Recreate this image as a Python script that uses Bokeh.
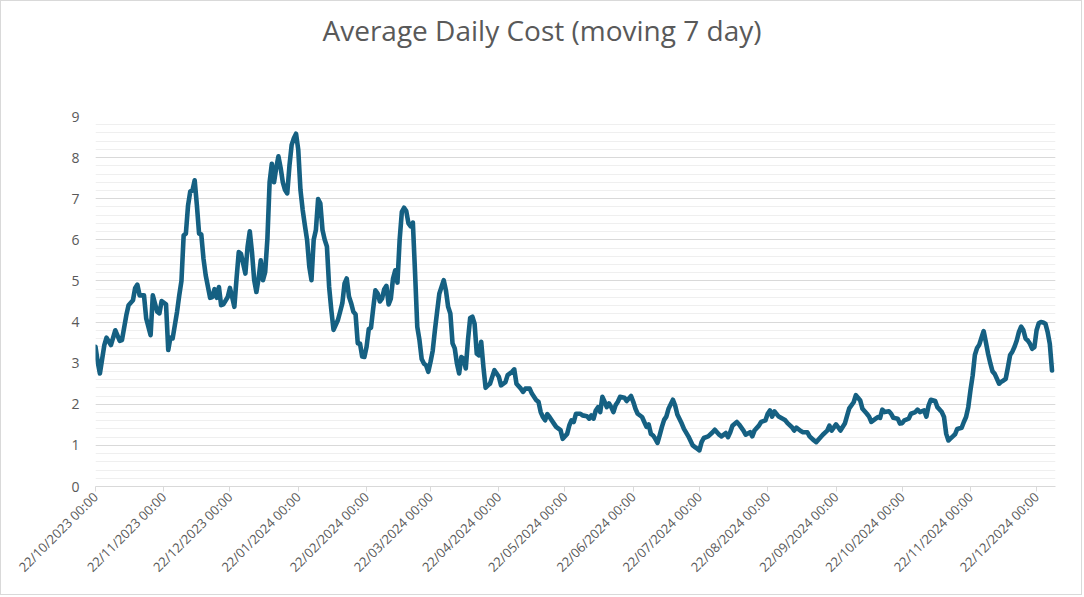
import math
import pandas as pd
from bokeh.plotting import figure
from bokeh.models import Range1d, FixedTicker, DatetimeTickFormatter, Title
from bokeh.embed import file_html
from bokeh.resources import INLINE

# ---------------- data ----------------
start_date = "2023-10-22"
day_offset = [0, 1, 2, 4, 5, 7, 9, 11, 12, 14, 15, 17, 18, 19, 20, 22, 23, 25, 26, 28,
              29, 30, 32, 33, 34, 35, 37, 38, 39, 40, 41, 42, 43, 44, 45, 46, 47, 48, 49, 50,
              52, 53, 54, 55, 56, 57, 58, 60, 61, 62, 63, 64, 65, 66, 68, 69, 70, 71, 72, 73,
              74, 75, 76, 77, 78, 79, 80, 81, 82, 83, 84, 85, 86, 87, 88, 89, 90, 91, 92, 93,
              94, 95, 96, 97, 98, 99, 100, 101, 102, 103, 104, 105, 106, 107, 108, 110, 111, 112, 113, 114,
              115, 116, 117, 118, 119, 120, 121, 122, 123, 124, 125, 126, 127, 128, 129, 130, 131, 132, 133, 134,
              135, 136, 137, 138, 139, 140, 141, 142, 143, 144, 145, 146, 147, 148, 149, 150, 151, 152, 153, 154,
              155, 156, 158, 159, 160, 161, 162, 163, 164, 165, 166, 167, 168, 169, 170, 171, 172, 173, 174, 175,
              176, 177, 178, 179, 181, 183, 184, 186, 187, 189, 190, 191, 193, 194, 195, 197, 198, 200, 201, 202,
              203, 204, 205, 206, 208, 209, 211, 212, 214, 215, 216, 217, 218, 220, 221, 223, 224, 225, 226, 227,
              228, 229, 230, 231, 232, 233, 234, 235, 236, 237, 238, 240, 241, 242, 243, 244, 245, 246, 248, 249,
              250, 251, 252, 253, 254, 255, 256, 257, 258, 259, 260, 262, 263, 264, 266, 267, 269, 271, 272, 273,
              274, 275, 276, 278, 280, 281, 283, 284, 286, 287, 288, 289, 291, 292, 294, 295, 297, 298, 299, 301,
              302, 304, 305, 306, 307, 308, 310, 311, 313, 314, 316, 317, 318, 320, 321, 323, 324, 326, 327, 329,
              330, 332, 333, 334, 336, 337, 338, 340, 341, 342, 344, 345, 347, 348, 350, 351, 352, 354, 355, 356,
              357, 358, 360, 361, 362, 364, 365, 366, 367, 369, 370, 372, 373, 374, 376, 377, 378, 379, 381, 382,
              384, 385, 386, 387, 388, 389, 390, 391, 393, 394, 395, 396, 397, 398, 399, 400, 401, 402, 403, 404,
              405, 406, 407, 408, 409, 410, 411, 412, 413, 414, 415, 416, 417, 418, 419, 420, 421, 422, 423, 424,
              425, 426, 427, 428, 429, 430, 431, 432, 433, 434]
cost = [3.40, 3.03, 2.75, 3.44, 3.62, 3.44, 3.80, 3.54, 3.56, 4.17, 4.41, 4.53, 4.83, 4.91, 4.65, 4.65, 4.09, 3.68, 4.65, 4.25,
        4.21, 4.51, 4.43, 3.32, 3.62, 3.60, 4.25, 4.65, 5.00, 6.11, 6.15, 6.84, 7.18, 7.20, 7.45, 6.84, 6.15, 6.13, 5.54, 5.14,
        4.59, 4.61, 4.80, 4.59, 4.85, 4.41, 4.43, 4.61, 4.83, 4.61, 4.37, 5.06, 5.70, 5.66, 5.18, 5.83, 6.21, 5.70, 5.02, 4.73,
        5.06, 5.50, 5.02, 5.22, 6.03, 7.40, 7.85, 7.40, 7.75, 8.03, 7.75, 7.40, 7.21, 7.13, 7.80, 8.31, 8.47, 8.58, 8.19, 7.21,
        6.73, 6.35, 6.00, 5.35, 5.02, 6.00, 6.24, 6.99, 6.89, 6.24, 6.00, 5.84, 4.86, 4.29, 3.81, 4.05, 4.25, 4.46, 4.94, 5.06,
        4.62, 4.46, 4.25, 4.19, 3.48, 3.48, 3.16, 3.15, 3.40, 3.83, 3.86, 4.33, 4.77, 4.70, 4.50, 4.57, 4.80, 4.88, 4.43, 4.57,
        5.06, 5.26, 4.96, 6.00, 6.68, 6.78, 6.70, 6.40, 6.33, 6.42, 5.19, 3.88, 3.56, 3.10, 2.99, 2.95, 2.79, 3.03, 3.30, 3.80,
        4.25, 4.69, 5.02, 4.77, 4.37, 4.21, 3.48, 3.36, 2.99, 2.75, 3.15, 3.11, 2.87, 3.56, 4.10, 4.13, 3.96, 3.23, 3.19, 3.52,
        2.91, 2.40, 2.46, 2.50, 2.83, 2.67, 2.46, 2.54, 2.71, 2.79, 2.85, 2.50, 2.38, 2.30, 2.38, 2.38, 2.26, 2.10, 2.06, 1.81,
        1.69, 1.61, 1.76, 1.69, 1.53, 1.45, 1.37, 1.16, 1.28, 1.49, 1.61, 1.57, 1.77, 1.77, 1.73, 1.71, 1.65, 1.73, 1.65, 1.85,
        1.93, 1.81, 2.18, 2.06, 1.93, 2.02, 1.93, 1.81, 1.98, 2.06, 2.18, 2.16, 2.08, 2.14, 2.20, 2.06, 1.89, 1.77, 1.69, 1.57,
        1.45, 1.51, 1.28, 1.24, 1.16, 1.06, 1.25, 1.45, 1.62, 1.70, 1.89, 2.11, 1.97, 1.75, 1.53, 1.40, 1.22, 1.00, 0.96, 0.92,
        0.88, 1.08, 1.18, 1.22, 1.32, 1.38, 1.26, 1.22, 1.30, 1.20, 1.32, 1.48, 1.57, 1.51, 1.36, 1.26, 1.32, 1.22, 1.36, 1.48,
        1.57, 1.61, 1.77, 1.85, 1.70, 1.83, 1.70, 1.67, 1.61, 1.54, 1.44, 1.36, 1.43, 1.35, 1.32, 1.32, 1.22, 1.12, 1.08, 1.20,
        1.26, 1.36, 1.48, 1.36, 1.51, 1.44, 1.36, 1.53, 1.72, 1.90, 2.05, 2.22, 2.09, 1.89, 1.77, 1.70, 1.57, 1.65, 1.69, 1.67,
        1.87, 1.81, 1.83, 1.77, 1.67, 1.65, 1.53, 1.54, 1.61, 1.65, 1.77, 1.81, 1.87, 1.81, 1.85, 1.70, 1.97, 2.11, 2.08, 1.93,
        1.81, 1.69, 1.28, 1.12, 1.17, 1.22, 1.27, 1.40, 1.43, 1.57, 1.69, 1.93, 2.34, 2.70, 3.20, 3.37, 3.45, 3.62, 3.78, 3.51,
        3.23, 3.00, 2.80, 2.74, 2.62, 2.50, 2.55, 2.58, 2.62, 2.90, 3.20, 3.28, 3.40, 3.55, 3.76, 3.89, 3.80, 3.60, 3.55, 3.47,
        3.35, 3.39, 3.80, 3.97, 4.00, 3.99, 3.96, 3.76, 3.47, 2.82]
tick_dates = ["2023-10-22", "2023-11-22", "2023-12-22", "2024-01-22", "2024-02-22",
              "2024-03-22", "2024-04-22", "2024-05-22", "2024-06-22", "2024-07-22",
              "2024-08-22", "2024-09-22", "2024-10-22", "2024-11-22", "2024-12-22"]
axis_end = "2024-12-30 14:00"
y_ticks = [0, 1, 2, 3, 4, 5, 6, 7, 8, 9]
title_text = "Average Daily Cost (moving 7 day)"

# ---------------- build ----------------
dates = pd.Timestamp(start_date) + pd.to_timedelta(day_offset, unit="D")
tick_ms = [pd.Timestamp(d).value / 1e6 for d in tick_dates]

FONT = "Open Sans"
TXT = "#595959"

p = figure(width=1082, height=595, output_backend="svg", toolbar_location=None,
           x_axis_type="datetime",
           x_range=Range1d(pd.Timestamp(start_date), pd.Timestamp(axis_end)),
           y_range=Range1d(0, 9),
           min_border_left=94, min_border_right=28, min_border_top=115, min_border_bottom=110)

# spacer between the plot area and the title (closest "above" panel)
spacer = Title(text=" ", text_font_size="1px", standoff=59)
p.add_layout(spacer, "above")

p.title.text = title_text
p.title.align = "left"
p.title.offset = 227
p.title.text_font = FONT
p.title.text_font_size = "28px"
p.title.text_font_style = "normal"
p.title.text_color = TXT
p.title.standoff = 12

p.line(dates, cost, line_width=4.6, line_color="#156082", line_join="round", line_cap="round")

p.outline_line_color = None
p.background_fill_color = "white"
p.border_fill_color = "white"

xa = p.xaxis[0]
xa.ticker = FixedTicker(ticks=tick_ms)
fmt = "%d/%m/%Y %H:%M"
xa.formatter = DatetimeTickFormatter(microseconds=fmt, milliseconds=fmt, seconds=fmt, minsec=fmt,
                                     minutes=fmt, hourmin=fmt, hours=fmt, days=fmt, months=fmt, years=fmt)
xa.major_label_orientation = math.pi / 4
xa.major_label_text_font = FONT
xa.major_label_text_font_size = "13px"
xa.major_label_text_color = TXT
xa.axis_line_color = "#D9D9D9"
xa.major_tick_line_color = "#D9D9D9"
xa.major_tick_in = 0
xa.major_tick_out = 5
xa.minor_tick_line_color = None
xa.major_label_standoff = 3

ya = p.yaxis[0]
ya.ticker = FixedTicker(ticks=y_ticks, minor_ticks=[i / 5 for i in range(0, 46)])
ya.major_label_text_font = FONT
ya.major_label_text_font_size = "14px"
ya.major_label_text_color = TXT
ya.axis_line_color = None
ya.major_tick_line_color = None
ya.minor_tick_line_color = None
ya.major_label_standoff = 10

p.xgrid.grid_line_color = None
p.ygrid.grid_line_color = "#D9D9D9"
p.ygrid.grid_line_width = 1
p.ygrid.minor_grid_line_color = "#EFEFEF"
p.ygrid.minor_grid_line_width = 1

p.styles = {"border": "1px solid #D9D9D9"}

open("out.html", "w").write(file_html(p, INLINE))
